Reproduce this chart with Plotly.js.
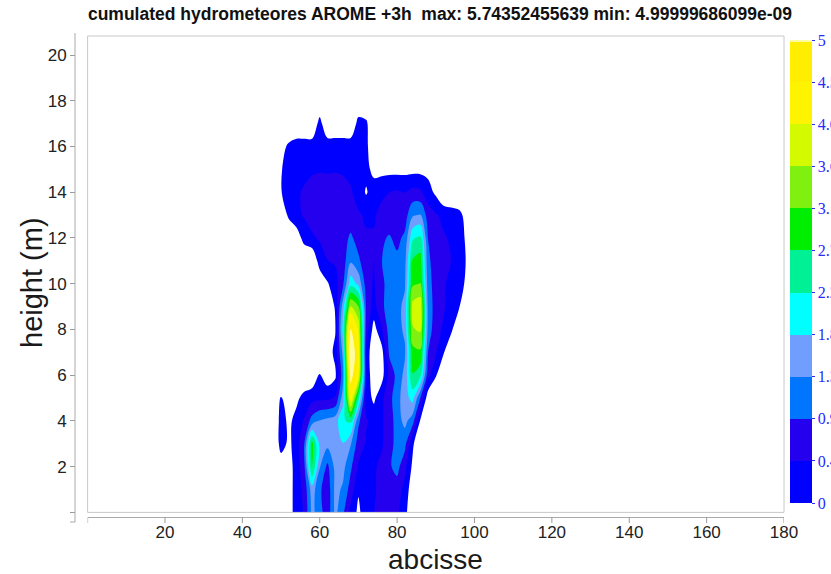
<!DOCTYPE html>
<html>
<head>
<meta charset="utf-8">
<script src="https://cdn.plot.ly/plotly-3.0.1.min.js"></script>
<style>
  html, body { margin: 0; padding: 0; background: #ffffff; }
  #chart { width: 831px; height: 574px; }
</style>
</head>
<body>
<div id="chart"></div>
<script>
// Grid abscissae (columns) and heights (rows) of the hydrometeor field
const abscisse = [48, 50, 52, 54, 56, 58, 60, 62, 64, 66, 68, 70, 72, 74, 76, 78, 80, 82, 84, 86, 88, 90, 92, 94, 96, 98, 100];
const height = [0, 1, 2, 3, 4, 5, 6, 7, 8, 9, 10, 11, 12, 13, 14, 15, 16, 17, 18];

// Cumulated hydrometeors, one row per height level (negative = no data, left blank)
const h00 = [-.5, -.5, -.2, .2, .5, 1.5, 1.1, .6, 1.5, 1.0, .3, -.1, .3, .45, .6, .7, .55, .15, -.4, -.5, -.5, -.5, -.5, -.5, -.5, -.5, -.5];
const h01 = [-.5, -.5, -.2, .2, .6, 1.6, 1.0, .6, 1.5, 1.3, .7, .05, .3, .4, .6, .75, .7, .3, -.3, -.5, -.5, -.5, -.5, -.5, -.5, -.5, -.5];
const h02 = [-.5, -.3, -.2, .2, .8, 2.8, 1.4, .8, 1.5, 1.5, 1.0, .4, .3, .4, .55, .85, 1.05, .6, -.1, -.5, -.5, -.5, -.5, -.5, -.5, -.5, -.5];
const h03 = [-.5, .2, -.1, .2, .9, 2.9, 1.7, 1.5, 1.5, 1.8, 1.4, .7, .4, .35, .4, .7, 1.1, 1.05, .1, -.5, -.5, -.5, -.5, -.5, -.5, -.5, -.5];
const h04 = [-.5, .2, -.1, .15, .5, 1.1, 1.4, 1.5, 1.6, 2.2, 2.4, 1.0, .5, .3, .4, .65, 1.15, 1.5, 1.1, -.05, -.5, -.5, -.5, -.5, -.5, -.5, -.5];
const h05 = [-.5, .05, -.3, -.1, .15, .3, .35, .35, .5, 1.6, 4.4, 2.4, .25, -.1, .35, .75, 1.2, 1.6, 2.0, .9, -.3, -.5, -.5, -.5, -.5, -.5, -.5];
const h06 = [-.5, -.5, -.5, -.5, -.4, -.4, .05, -.3, -.1, 1.2, 5.3, 4.2, .5, -.5, -.2, .6, 1.05, 1.5, 2.7, 2.4, .6, .05, -.5, -.5, -.5, -.5, -.5];
const h07 = [-.5, -.5, -.5, -.5, -.5, -.5, -.5, -.3, .15, 1.5, 5.74, 4.4, .4, -.5, -.2, 1.0, 1.15, 1.3, 3.0, 3.1, .9, .5, .05, -.5, -.5, -.5, -.5];
const h08 = [-.5, -.5, -.5, -.5, -.5, -.5, -.5, -.4, -.05, 2.0, 5.1, 4.0, .7, -.2, .4, 1.1, 1.2, 1.45, 3.6, 3.7, 1.2, .6, .4, .1, -.5, -.5, -.5];
const h09 = [-.5, -.5, -.5, -.5, -.5, -.5, -.5, -.4, .05, 1.6, 3.7, 3.2, .8, .3, .8, 1.15, 1.2, 1.5, 3.8, 3.95, 1.2, .7, .5, .3, .05, -.5, -.5];
const h10 = [-.5, -.5, -.5, -.5, -.5, -.5, -.4, -.05, .3, .8, 2.1, 1.7, .7, .4, .8, 1.1, 1.15, 1.3, 3.1, 3.2, 1.1, .7, .5, .35, .2, -.1, -.5];
const h11 = [-.5, -.5, -.5, -.5, -.5, -.5, .25, .45, .5, .7, 1.3, 1.0, .6, .45, .9, 1.1, 1.0, 1.2, 2.8, 2.9, 1.0, .7, .55, .45, .3, -.05, -.5];
const h12 = [-.5, -.5, -.5, -.3, .2, .4, .5, .55, .6, .7, 1.0, .7, .5, .5, .85, .95, .8, 1.0, 2.2, 2.4, .9, .6, .5, .4, .25, -.1, -.5];
const h13 = [-.5, -.4, .1, .35, .5, .6, .65, .65, .6, .6, .6, .5, .4, .4, .6, .65, .6, .7, 1.3, 1.4, .7, .5, .35, .25, .15, -.2, -.5];
const h14 = [-.5, -.03, .3, .4, .5, .6, .65, .7, .65, .6, .5, .3, -.05, .25, .35, .45, .5, .45, .6, .55, .2, -.1, -.5, -.5, -.5, -.5, -.5];
const h15 = [-.5, -.05, .3, .3, .35, .4, .42, .4, .42, .4, .35, .3, .15, -.15, -.15, -.15, -.15, -.15, -.15, -.15, -.15, -.5, -.5, -.5, -.5, -.5, -.5];
const h16 = [-.5, -.2, .1, .25, .25, .25, .3, .3, .3, .3, .3, .25, .15, -.5, -.5, -.5, -.5, -.5, -.5, -.5, -.5, -.5, -.5, -.5, -.5, -.5, -.5];
const h17 = [-.5, -.5, -.5, -.5, -.5, -.5, .2, -.5, -.5, -.5, -.5, .2, .1, -.5, -.5, -.5, -.5, -.5, -.5, -.5, -.5, -.5, -.5, -.5, -.5, -.5, -.5];
const h18 = [-.5, -.5, -.5, -.5, -.5, -.5, -.5, -.5, -.5, -.5, -.5, -.5, -.5, -.5, -.5, -.5, -.5, -.5, -.5, -.5, -.5, -.5, -.5, -.5, -.5, -.5, -.5];

// Contour levels shown on the colour bar
const levelTicks = [0, 0.4545, 0.9091, 1.3636, 1.8182, 2.2727, 2.7273, 3.1818, 3.6364, 4.0909, 4.5455, 5];
const levelLabels = ['0', '0.45', '0.91', '1.36', '1.82', '2.27', '2.73', '3.18', '3.64', '4.09', '4.55', '5'];

// Axis ticks
const xTicks = [0, 20, 40, 60, 80, 100, 120, 140, 160, 180];
const xTickText = ['', '20', '40', '60', '80', '100', '120', '140', '160', '180'];
const yTicks = [0, 2, 4, 6, 8, 10, 12, 14, 16, 18, 20];
const yTickText = ['', '2', '4', '6', '8', '10', '12', '14', '16', '18', '20'];

const field = [h00, h01, h02, h03, h04, h05, h06, h07, h08, h09, h10, h11, h12, h13, h14, h15, h16, h17, h18];

// One colour per band between consecutive levels (0 .. 5)
const bandColors = [
  'rgb(0,0,255)',
  'rgb(36,0,238)',
  'rgb(0,118,255)',
  'rgb(112,158,255)',
  'rgb(0,255,255)',
  'rgb(0,240,150)',
  'rgb(0,238,0)',
  'rgb(128,240,16)',
  'rgb(212,250,0)',
  'rgb(255,244,0)',
  'rgb(255,238,0)'
];
const overColor = 'rgb(255,252,160)';
// Each band colour sits at its band's middle on the [0, 5] scale; below 0 stays blank
const nb = bandColors.length;
const colorscale = [[0, '#ffffff']]
  .concat(bandColors.map((c, k) => [(k + 0.5) / nb, c]))
  .concat([[1, overColor]]);

// Page geometry (pixels)
const W = 831, H = 574;
const M = {l: 75, r: 47, t: 33, b: 52, autoexpand: false};
const pw = W - M.l - M.r, ph = H - M.t - M.b;
const plotLeft = 87.6, plotTop = 36, plotBottom = 512.4;
const xDom0 = (plotLeft - M.l) / pw;
const yDom0 = (H - M.b - plotBottom) / ph;
const yDom1 = (H - M.b - plotTop) / ph;
const yTop = (plotBottom - plotTop) / 22.87;
const xAxisPos = (H - M.b - 517) / ph;

const trace = {
  type: 'contour',
  x: abscisse,
  y: height,
  z: field,
  zauto: false, zmin: 0, zmax: 5,
  colorscale: colorscale,
  autocontour: false,
  contours: {start: 0, end: 5, size: 5 / 11, coloring: 'fill', showlines: false},
  line: {width: 0, smoothing: 1},
  hoverinfo: 'skip',
  colorbar: {
    tickmode: 'array',
    tickvals: levelTicks,
    ticktext: levelLabels,
    x: (790 - M.l) / pw, xanchor: 'left', xpad: 0,
    y: (H - M.b - 271.5) / ph, yanchor: 'middle', ypad: 0,
    len: 463, lenmode: 'pixels',
    thickness: 22, thicknessmode: 'pixels',
    outlinewidth: 0,
    ticks: 'outside', ticklen: 3, tickcolor: 'rgb(40,40,255)',
    tickfont: {family: 'Liberation Serif, DejaVu Serif, serif', size: 16, color: 'rgb(40,40,255)'}
  }
};

const axisFont = {family: 'Liberation Sans, Arial, sans-serif', size: 17, color: '#222'};

// Abscissa tick marks hanging below the detached axis line
const xTickMarks = xTicks.map(t => ({
  type: 'line', xref: 'x', yref: 'paper', x0: t, x1: t,
  y0: xAxisPos, y1: xAxisPos - 6 / ph,
  line: {color: '#999', width: 1}
}));

const layout = {
  width: W, height: H,
  margin: M,
  paper_bgcolor: '#ffffff',
  plot_bgcolor: '#ffffff',
  showlegend: false,
  title: {
    text: 'cumulated hydrometeores AROME +3h  max: 5.74352455639 min: 4.99999686099e-09',
    font: {family: 'Liberation Sans, Arial, sans-serif', size: 17.5, weight: 'bold', color: '#111'},
    xref: 'container', x: 440 / W, xanchor: 'center',
    yref: 'container', y: 1 - 14 / H, yanchor: 'middle'
  },
  xaxis: {
    domain: [xDom0, 1],
    range: [0, 180],
    anchor: 'free', position: xAxisPos,
    tickmode: 'array', tickvals: xTicks, ticktext: xTickText,
    ticks: '',
    showline: true, linecolor: '#aaa', linewidth: 1,
    showgrid: false, zeroline: false,
    tickfont: axisFont
  },
  yaxis: {
    domain: [yDom0, yDom1],
    range: [0, yTop],
    anchor: 'free', position: 0,
    tickmode: 'array', tickvals: yTicks, ticktext: yTickText,
    ticks: 'outside', ticklen: 5, tickcolor: '#999',
    showline: false,
    showgrid: false, zeroline: false,
    tickfont: axisFont
  },
  shapes: [
    // plot frame
    {type: 'rect', xref: 'paper', yref: 'paper', x0: xDom0, x1: 1, y0: yDom0, y1: yDom1,
     line: {color: '#c8c8c8', width: 1}, fillcolor: 'rgba(0,0,0,0)', layer: 'above'},
    // detached height axis line with its end cap
    {type: 'line', xref: 'paper', yref: 'paper', x0: 0, x1: 0, y0: 0, y1: 1,
     line: {color: '#aaa', width: 1}},
    {type: 'line', xref: 'paper', yref: 'paper', x0: 0, x1: -5 / pw, y0: 0, y1: 0,
     line: {color: '#aaa', width: 1}}
  ].concat(xTickMarks),
  annotations: [
    {text: 'height (m)', xref: 'paper', yref: 'paper', x: (32 - M.l) / pw, y: (H - M.b - 283) / ph,
     xanchor: 'center', yanchor: 'middle', textangle: -90, showarrow: false,
     font: {family: 'Liberation Sans, Arial, sans-serif', size: 29, color: '#1a1a1a'}},
    {text: 'abcisse', xref: 'paper', yref: 'paper', x: (435 - M.l) / pw, y: (H - M.b - 559) / ph,
     xanchor: 'center', yanchor: 'middle', showarrow: false,
     font: {family: 'Liberation Sans, Arial, sans-serif', size: 28, color: '#1a1a1a'}}
  ]
};

Plotly.newPlot('chart', [trace], layout, {displayModeBar: false, staticPlot: true});
</script>
</body>
</html>
